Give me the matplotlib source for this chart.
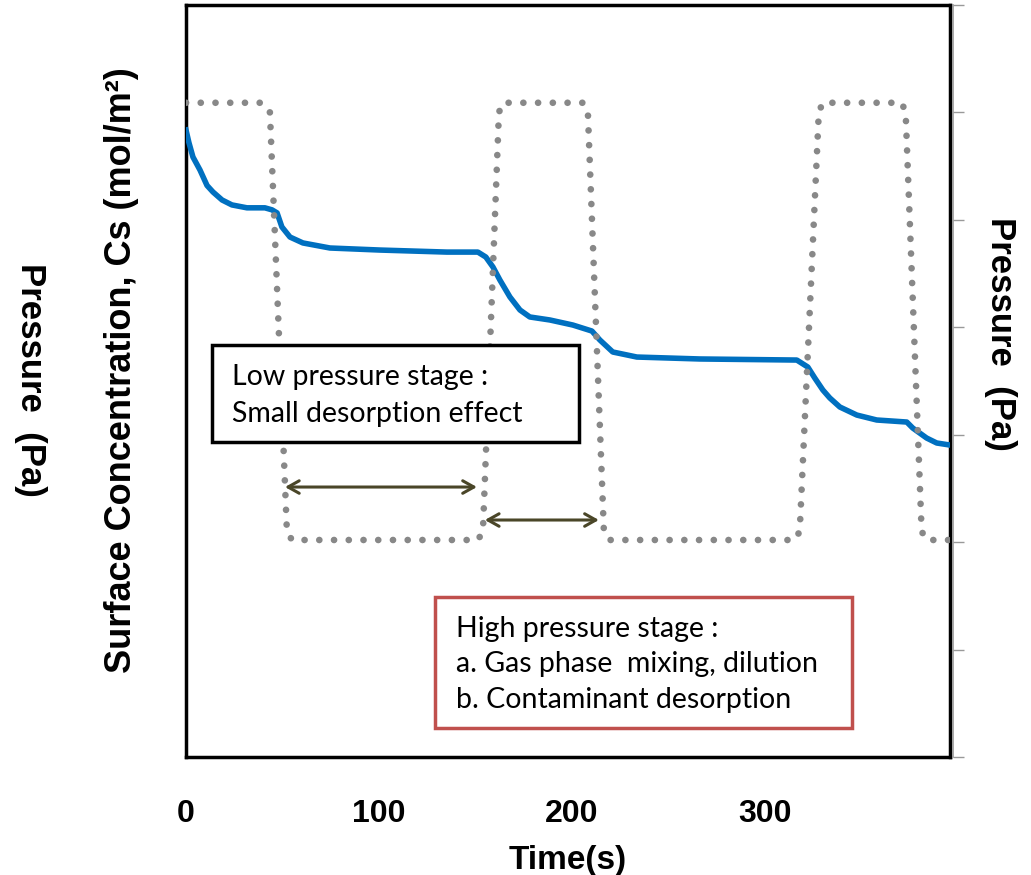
import matplotlib
matplotlib.use('Agg')
import matplotlib.pyplot as plt
from matplotlib.patches import Rectangle

# pressure cycle (dotted grey), arbitrary pressure units
time_p = [0, 39.4, 43.5, 52.3, 54.9, 151.3, 153.9, 162.2, 164.2, 205.7, 208.3, 216.6, 219.7,
          315.5, 318.1, 328.0, 330.0, 371.0, 373.0, 381.3, 383.9, 396.0]
pressure = [6.09, 6.09, 6.0, 2.1, 2.02, 2.02, 2.1, 6.0, 6.09, 6.09, 6.0, 2.1, 2.02,
            2.02, 2.1, 6.0, 6.09, 6.09, 6.0, 2.1, 2.02, 2.02]

# surface concentration (blue), arbitrary units
time_c = [0, 1.5, 3.6, 7.25, 10.9, 14.0, 18.7, 23.8, 31.6, 40.9, 44.6, 47.2, 49.7, 53.9, 60.6,
          74.6, 100.5, 135.2, 151.3, 155.4, 159.1, 162.7, 167.9, 173.1, 178.2, 188.6, 200.5,
          210.4, 214.5, 221.2, 233.7, 266.3, 316.6, 322.3, 325.9, 330.1, 333.7, 338.9, 347.7,
          358.0, 373.6, 376.7, 383.9, 389.1, 395.9]
conc = [5.836, 5.72, 5.585, 5.464, 5.32, 5.259, 5.185, 5.139, 5.112, 5.112, 5.093, 5.065, 4.934,
        4.840, 4.785, 4.738, 4.719, 4.700, 4.700, 4.654, 4.561, 4.440, 4.282, 4.161, 4.096,
        4.068, 4.021, 3.965, 3.882, 3.770, 3.723, 3.705, 3.695, 3.630, 3.528, 3.416, 3.342,
        3.258, 3.183, 3.137, 3.118, 3.062, 2.969, 2.923, 2.904]

x_ticks = [0, 100, 200, 300]

fig = plt.figure(figsize=(10.31, 8.75), dpi=100)
ax = fig.add_axes([186 / 1031, 118 / 875, 764 / 1031, 752 / 875])
ax2 = ax.twinx()

ax.plot(time_c, conc, color='#0070C0', lw=4.0, solid_joinstyle='round', zorder=3)
ax2.plot(time_p, pressure, color='#888888', lw=4.8, linestyle=(0, (0.01, 2.2)),
         dash_capstyle='round', zorder=2)

ax.set_xlim(0, 396)
ax.set_ylim(0, 7)
ax2.set_ylim(0, 7)
ax.set_yticks([])
ax.set_xticks(x_ticks)
ax.set_xticklabels([str(t) for t in x_ticks], fontsize=23, fontweight='bold',
                   family='Liberation Sans')
ax.tick_params(axis='x', length=0, pad=30)
ax.set_xlabel('Time(s)', fontsize=24, fontweight='bold', family='Liberation Sans', labelpad=12)

for s in ax.spines.values():
    s.set_linewidth(2.5)
    s.set_color('black')
for s in ['left', 'top', 'bottom']:
    ax2.spines[s].set_visible(False)
ax2.spines['right'].set_color('#999999')
ax2.spines['right'].set_linewidth(1.2)
ax2.spines['right'].set_position(('outward', 2))
ax2.set_yticks(range(8))
ax2.set_yticklabels([])
ax2.tick_params(axis='y', length=8, width=1.0, color='#999999', direction='out')

fig.text(122 / 1031, 1 - 370 / 875, 'Surface Concentration, Cs (mol/m²)', rotation=90,
         ha='center', va='center', fontsize=26, fontweight='bold', family='Liberation Sans')
fig.text(30 / 1031, 1 - 380 / 875, 'Pressure  (Pa)', rotation=270,
         ha='center', va='center', fontsize=25, fontweight='bold', family='Liberation Sans')
fig.text(1000 / 1031, 1 - 334 / 875, 'Pressure  (Pa)', rotation=270,
         ha='center', va='center', fontsize=25, fontweight='bold', family='Liberation Sans')

# annotation boxes
ax2.add_patch(Rectangle((13.5, 2.93), 190.1, 0.905, fill=True, facecolor='white',
                        edgecolor='black', lw=2.5, zorder=5))
ax2.text(23.8, 3.46, 'Low pressure stage :', fontsize=20.5, family='Lato', va='baseline', zorder=6)
ax2.text(23.8, 3.12, 'Small desorption effect', fontsize=20.5, family='Lato', va='baseline', zorder=6)

ax2.add_patch(Rectangle((129, 0.27), 216, 1.22, fill=True, facecolor='white',
                        edgecolor='#C0504D', lw=2.5, zorder=5))
ax2.text(140, 1.117, 'High pressure stage :', fontsize=20.5, family='Lato', va='baseline', zorder=6)
ax2.text(140, 0.79, 'a. Gas phase  mixing, dilution', fontsize=20.5, family='Lato', va='baseline', zorder=6)
ax2.text(140, 0.456, 'b. Contaminant desorption', fontsize=20.5, family='Lato', va='baseline', zorder=6)

arrow_kw = dict(arrowstyle='<->,head_length=0.8,head_width=0.45', color='#4A4628', lw=2.2,
                shrinkA=0, shrinkB=0)
ax2.annotate('', xy=(150.8, 2.513), xytext=(51.3, 2.513), arrowprops=arrow_kw, zorder=6)
ax2.annotate('', xy=(214.0, 2.206), xytext=(154.9, 2.206), arrowprops=arrow_kw, zorder=6)

fig.savefig('out.png', dpi=100)
